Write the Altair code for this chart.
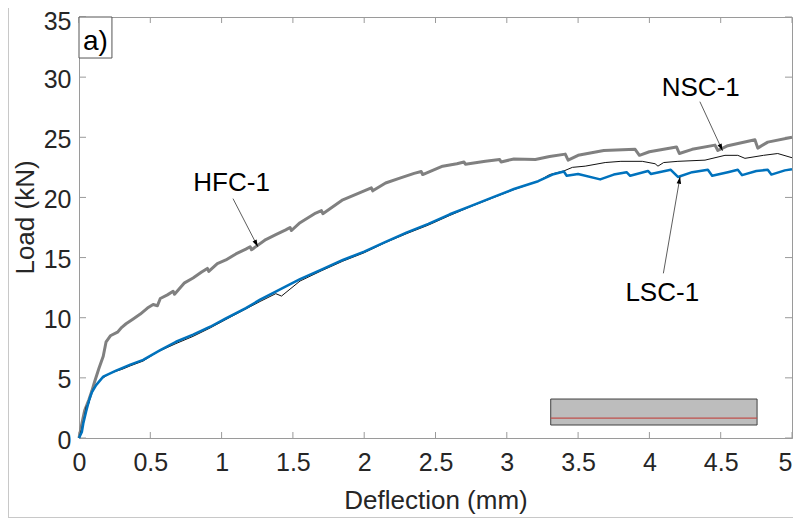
import altair as alt
import pandas as pd
import math

# ---------------- data ----------------
hfc_x = [0, 0.02, 0.04, 0.07, 0.09, 0.11, 0.14, 0.17, 0.19, 0.22, 0.27, 0.30, 0.33, 0.38,
         0.43, 0.48, 0.52, 0.55, 0.57, 0.62, 0.66, 0.67, 0.74, 0.80, 0.86, 0.90, 0.91, 0.97,
         1.03, 1.10, 1.17, 1.20, 1.21, 1.31, 1.38, 1.45, 1.48, 1.49, 1.55, 1.66, 1.70, 1.71,
         1.85, 1.95, 2.05, 2.06, 2.15, 2.25, 2.35, 2.40, 2.41, 2.55, 2.65, 2.70, 2.71, 2.85,
         2.95, 2.96, 3.05, 3.20, 3.30, 3.41, 3.43, 3.50, 3.68, 3.90, 3.93, 4.00, 4.19, 4.21,
         4.30, 4.46, 4.48, 4.55, 4.74, 4.76, 4.83, 5.00]
hfc_y = [0, 1.2, 2.3, 3.2, 3.9, 4.7, 5.8, 6.8, 8.0, 8.5, 8.8, 9.2, 9.5, 9.9,
         10.3, 10.8, 11.1, 11.0, 11.6, 11.9, 12.2, 11.95, 12.9, 13.3, 13.8, 14.1, 13.85, 14.5,
         14.8, 15.3, 15.7, 15.9, 15.65, 16.5, 16.9, 17.3, 17.5, 17.25, 17.9, 18.7, 18.9, 18.65,
         19.8, 20.3, 20.8, 20.55, 21.2, 21.6, 22.0, 22.15, 21.9, 22.6, 22.8, 22.95, 22.75, 23.0,
         23.15, 22.95, 23.2, 23.15, 23.4, 23.6, 23.1, 23.5, 23.9, 24.0, 23.5, 23.8, 24.2, 23.65,
         24.0, 24.35, 23.9, 24.3, 24.8, 24.1, 24.6, 25.0]

nsc_x = [0, 0.02, 0.04, 0.05, 0.07, 0.08, 0.10, 0.13, 0.17, 0.22, 0.30, 0.36, 0.45, 0.55,
         0.68, 0.80, 0.92, 1.03, 1.15, 1.27, 1.38, 1.42, 1.55, 1.70, 1.85, 2.00, 2.15, 2.30,
         2.45, 2.60, 2.75, 2.90, 3.05, 3.22, 3.30, 3.40, 3.46, 3.55, 3.69, 3.80, 3.95, 4.04,
         4.06, 4.10, 4.20, 4.39, 4.53, 4.62, 4.67, 4.80, 4.90, 5.00]
nsc_y = [0, 0.8, 1.9, 2.6, 2.9, 3.5, 4.1, 4.6, 5.0, 5.4, 5.7, 6.0, 6.4, 7.15,
         7.85, 8.45, 9.15, 9.85, 10.6, 11.35, 12.0, 11.8, 13.05, 13.9, 14.7, 15.4, 16.25, 17.0,
         17.7, 18.5, 19.25, 19.95, 20.65, 21.35, 21.9, 22.2, 22.5, 22.6, 22.9, 23.0, 23.0, 22.8,
         22.6, 22.9, 23.0, 23.1, 23.5, 23.5, 23.25, 23.5, 23.65, 23.3]

lsc_x = [0, 0.02, 0.03, 0.05, 0.07, 0.09, 0.12, 0.17, 0.26, 0.36, 0.45, 0.57, 0.68, 0.80,
         0.92, 1.03, 1.17, 1.27, 1.40, 1.55, 1.70, 1.85, 2.00, 2.15, 2.30, 2.45, 2.60, 2.75,
         2.90, 3.05, 3.22, 3.32, 3.40, 3.42, 3.50, 3.655, 3.75, 3.84, 3.865, 3.99, 4.01, 4.15,
         4.20, 4.30, 4.41, 4.44, 4.55, 4.62, 4.65, 4.75, 4.83, 4.855, 4.95, 5.00]
lsc_y = [0, 0.5, 1.2, 2.2, 3.1, 3.8, 4.4, 5.1, 5.6, 6.1, 6.5, 7.3, 8.0, 8.6,
         9.25, 9.95, 10.8, 11.5, 12.3, 13.2, 14.0, 14.8, 15.5, 16.3, 17.1, 17.8, 18.6, 19.3,
         20.0, 20.7, 21.35, 21.9, 22.15, 21.8, 21.95, 21.5, 21.9, 22.1, 21.8, 22.2, 21.95, 22.3,
         21.7, 22.1, 22.3, 21.8, 22.1, 22.3, 21.85, 22.2, 22.3, 21.9, 22.25, 22.35]

x_ticks = [0, 0.5, 1, 1.5, 2, 2.5, 3, 3.5, 4, 4.5, 5]
y_ticks = [0, 5, 10, 15, 20, 25, 30, 35]

# annotation: label text position, arrow start, arrow tip
labels = ["HFC-1", "NSC-1", "LSC-1"]
label_x = [1.07, 4.36, 4.09]
label_y = [21.2, 29.1, 12.05]
arrow_x0 = [1.08, 4.354, 4.098]
arrow_y0 = [19.9, 27.96, 13.69]
arrow_x1 = [1.254, 4.513, 4.215]
arrow_y1 = [15.9, 23.88, 21.72]

# inset cross-section sketch
inset_x = [3.308, 4.755]
inset_y = [1.08, 3.24]
inset_line_y = 1.66

# panel label box
panel_box_x = [0, 0.231]
panel_box_y = [31.59, 35]

# ---------------- chart ----------------
W, H = 713, 421
XD, YD = [0, 5], [0, 35]
px_per_x = W / (XD[1] - XD[0])
px_per_y = H / (YD[1] - YD[0])

xs = alt.Scale(domain=XD, nice=False, zero=False)
ys = alt.Scale(domain=YD, nice=False, zero=False)

FONT = "Liberation Sans"
AX = "#9a9a9a"

curves = pd.concat([
    pd.DataFrame({"x": hfc_x, "y": hfc_y, "s": "HFC-1"}),
    pd.DataFrame({"x": lsc_x, "y": lsc_y, "s": "LSC-1"}),
    pd.DataFrame({"x": nsc_x, "y": nsc_y, "s": "NSC-1"}),
])

x_enc = alt.X("x:Q", scale=xs, axis=alt.Axis(
    values=x_ticks, format="~g", title="Deflection (mm)", grid=False, ticks=False,
    labelFlush=False, labelPadding=12, titleY=70, titleBaseline="alphabetic",
    labelAlign={"condition": {"test": "datum.value == 5", "value": "right"}, "value": "center"}))
y_enc = alt.Y("y:Q", scale=ys, axis=alt.Axis(
    values=y_ticks, format="~g", title="Load (kN)", grid=False, ticks=False,
    labelFlush=False, labelPadding=8,
    labelOffset={"condition": {"test": "datum.value == 35", "value": 4}, "value": 2},
    titleX=-46, titleY=200,
    titleBaseline="alphabetic", titleAngle=-90, titleAlign="center"))

def curve(name, color, width):
    return alt.Chart(curves[curves.s == name]).mark_line(
        color=color, strokeWidth=width, strokeJoin="round").encode(
        x=x_enc, y=y_enc, order=alt.Order("x:Q"))

hfc = curve("HFC-1", "#808080", 3)
lsc = curve("LSC-1", "#0072BD", 2.5)
nsc = curve("NSC-1", "#111111", 1)

# inward ticks
xt = pd.DataFrame({"t": x_ticks})
yt = pd.DataFrame({"t": y_ticks})
tick_b = alt.Chart(xt).mark_rule(color=AX, strokeWidth=1).encode(
    x=alt.X("t:Q", scale=xs), y=alt.value(H), y2=alt.value(H - 6))
tick_t = alt.Chart(xt).mark_rule(color=AX, strokeWidth=1).encode(
    x=alt.X("t:Q", scale=xs), y=alt.value(0), y2=alt.value(6))
tick_l = alt.Chart(yt).mark_rule(color=AX, strokeWidth=1).encode(
    y=alt.Y("t:Q", scale=ys), x=alt.value(0), x2=alt.value(7))
tick_r = alt.Chart(yt).mark_rule(color=AX, strokeWidth=1).encode(
    y=alt.Y("t:Q", scale=ys), x=alt.value(W), x2=alt.value(W - 7))

# inset rectangle with red line
inset_df = pd.DataFrame({"x": [inset_x[0]], "x2": [inset_x[1]],
                         "y": [inset_y[0]], "y2": [inset_y[1]], "yl": [inset_line_y]})
inset_rect = alt.Chart(inset_df).mark_rect(
    fill="#bdbdbd", stroke="#404040", strokeWidth=1).encode(
    x=alt.X("x:Q", scale=xs), x2="x2:Q", y=alt.Y("y:Q", scale=ys), y2="y2:Q")
inset_line = alt.Chart(inset_df).mark_rule(color="#c0504d", strokeWidth=1.3).encode(
    x=alt.X("x:Q", scale=xs), x2="x2:Q", y=alt.Y("yl:Q", scale=ys))

# panel label
box_df = pd.DataFrame({"x": [panel_box_x[0]], "x2": [panel_box_x[1]],
                       "y": [panel_box_y[0]], "y2": [panel_box_y[1]], "t": ["a)"]})
box = alt.Chart(box_df).mark_rect(fill="white", stroke="#555555", strokeWidth=1).encode(
    x=alt.X("x:Q", scale=xs), x2="x2:Q", y=alt.Y("y:Q", scale=ys), y2="y2:Q")
box_txt = alt.Chart(box_df).mark_text(
    font=FONT, fontSize=28, align="left", baseline="alphabetic", dx=4, dy=-8,
    color="#000000").encode(
    x=alt.X("x:Q", scale=xs), y=alt.Y("y:Q", scale=ys), text="t:N")

# annotations
ann = pd.DataFrame({"label": labels, "lx": label_x, "ly": label_y,
                    "x0": arrow_x0, "y0": arrow_y0, "x1": arrow_x1, "y1": arrow_y1})
ann["angle"] = [
    (math.degrees(math.atan2((b - a) * px_per_x, (d - c) * px_per_y)) + 360) % 360
    for a, b, c, d in zip(ann.x0, ann.x1, ann.y0, ann.y1)]
ann_txt = alt.Chart(ann).mark_text(
    font=FONT, fontSize=26, align="center", baseline="middle", color="#000000").encode(
    x=alt.X("lx:Q", scale=xs), y=alt.Y("ly:Q", scale=ys), text="label:N")
ann_line = alt.Chart(ann).mark_rule(color="#333333", strokeWidth=0.8).encode(
    x=alt.X("x0:Q", scale=xs), x2="x1:Q", y=alt.Y("y0:Q", scale=ys), y2="y1:Q")
ann_head = alt.Chart(ann).mark_point(
    shape="M0,0L-0.32,1L0.32,1Z", filled=True, color="#000000", size=200, opacity=1).encode(
    x=alt.X("x1:Q", scale=xs), y=alt.Y("y1:Q", scale=ys), angle=alt.Angle("angle:Q", scale=None))

# outer frame lines of the figure
frame_l = alt.Chart(pd.DataFrame({"a": [0]})).mark_rule(color="#c8c8c8", strokeWidth=1).encode(
    x=alt.value(-70.5), y=alt.value(-9), y2=alt.value(500))
frame_b = alt.Chart(pd.DataFrame({"a": [0]})).mark_rule(color="#c8c8c8", strokeWidth=1).encode(
    x=alt.value(-71), x2=alt.value(W + 10), y=alt.value(500.5))

chart = alt.layer(
    frame_l, frame_b,
    tick_b, tick_t, tick_l, tick_r,
    inset_rect, inset_line,
    hfc, nsc, lsc,
    ann_line, ann_head, ann_txt,
    box, box_txt,
).properties(
    width=W, height=H,
    autosize=alt.AutoSizeParams(type="none"),
    padding={"left": 71, "top": 9, "right": 1, "bottom": 80},
).configure_view(
    stroke=AX, strokeWidth=1
).configure_axis(
    domainColor=AX, domainWidth=1,
    labelFont=FONT, labelFontSize=25, labelColor="#262626",
    titleFont=FONT, titleFontSize=26, titleColor="#262626", titleFontWeight="normal",
)

chart.save("out.html", embed_options={"renderer": "svg", "actions": False})
